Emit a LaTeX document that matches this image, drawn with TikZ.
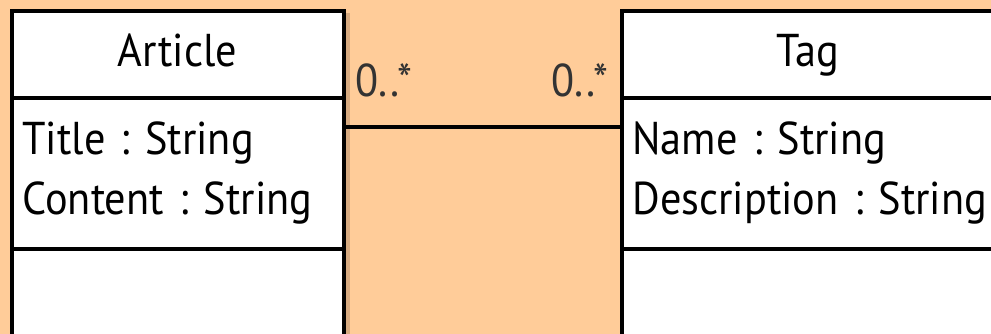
\documentclass[tikz,border=0pt]{standalone}
\usepackage{fontspec}
\setmainfont{PT Sans}[FakeStretch=0.92]
\usetikzlibrary{positioning}
\definecolor{umlpeach}{RGB}{255,204,153}
\definecolor{umlshadow}{RGB}{214,170,128}

\begin{document}
\begin{tikzpicture}[
  x=1pt, y=-1pt,
  font=\fontsize{46}{60}\selectfont\frenchspacing,
  box/.style={rectangle, draw, line width=4pt, fill=white, inner sep=0pt, outer sep=0pt},
  classname/.style={box, minimum width=#1, minimum height=87pt, text height=32pt, text depth=8pt},
  classattr/.style={box, text width=#1-22pt, inner xsep=11pt, minimum height=150pt, align=left},
  classops/.style={box, minimum width=#1, minimum height=120pt},
  mult/.style={inner sep=0pt, text=black!80},
  assoc/.style={draw, line width=4pt}
]
\useasboundingbox (0,0) rectangle (991,334);
\clip (0,0) rectangle (991,334);
\fill[umlpeach] (0,0) rectangle (991,334);

% Article class
\node [classname=332pt] (articlename) at (177.5,55) {Article};
\node [classattr=332pt, below=0pt of articlename] (articleattr) {Title~:~String\\Content~:~String};
\node [classops=332pt, below=0pt of articleattr] (articleops) {};
\fill [umlshadow] ([xshift=2pt,yshift=-2pt]articlename.north east) rectangle ([xshift=6.5pt]articleops.south east);

% Tag class
\node [classname=373pt] (tagname) at (808,55) {Tag};
\node [classattr=373pt, below=0pt of tagname] (tagattr) {Name~:~String\\Description~:~String};
\node [classops=373pt, below=0pt of tagattr] (tagops) {};

% association
\coordinate (assocA) at ([yshift=-29pt]articleattr.north east);
\coordinate (assocB) at ([yshift=-29pt]tagattr.north west);
\draw [assoc] ([xshift=2pt]assocA) -- ([xshift=-2pt]assocB);
\node [mult, anchor=base west] (multA) at ([xshift=12pt,yshift=31pt]assocA) {0..*};
\node [mult, anchor=base east] (multB) at ([xshift=-13pt,yshift=31pt]assocB) {0..*};
\end{tikzpicture}
\end{document}
